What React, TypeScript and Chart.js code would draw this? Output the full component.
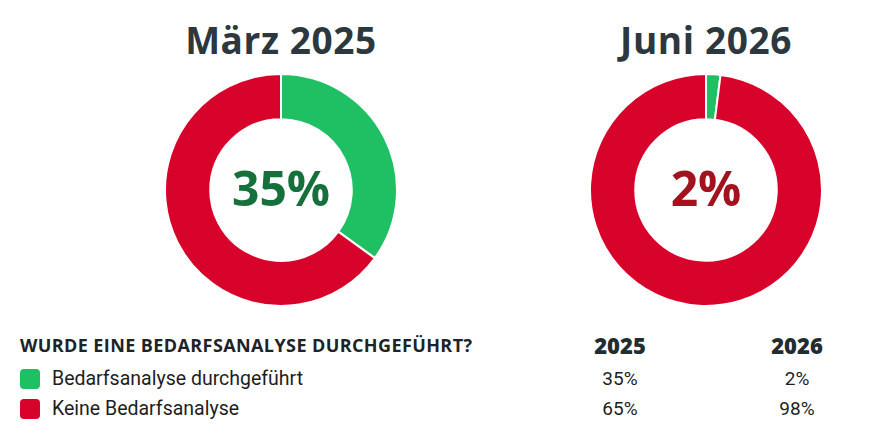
import React, { useEffect, useRef } from "react";
import { Chart, registerables } from "chart.js";

Chart.register(...registerables);

const categories = ["Bedarfsanalyse durchgeführt", "Keine Bedarfsanalyse"];
const values2025 = [35, 65];
const values2026 = [2, 98];
const periodTitles = ["März 2025", "Juni 2026"];
const yearLabels = ["2025", "2026"];
const centerLabels = ["35%", "2%"];
const tableHeading = "WURDE EINE BEDARFSANALYSE DURCHGEFÜHRT?";

const COLORS = ["#1fc064", "#d8032b"];
const CENTER_COLORS = ["#16703b", "#a3131f"];
const TITLE_FONT = "'Open Sans', 'Noto Sans', sans-serif";
const BODY_FONT = "Roboto, 'Liberation Sans', Arial, sans-serif";

const centerTextPlugin = {
  id: "centerText",
  afterDraw(chart: any, _args: any, opts: any) {
    const { ctx, chartArea } = chart;
    const cx = (chartArea.left + chartArea.right) / 2;
    const cy = (chartArea.top + chartArea.bottom) / 2;
    ctx.save();
    ctx.font = `700 48px ${TITLE_FONT}`;
    ctx.fillStyle = opts.color;
    ctx.textAlign = "center";
    ctx.textBaseline = "middle";
    ctx.fillText(opts.text, cx, cy + 2);
    ctx.restore();
  },
};

function Donut({ values, center, color, title, left }: any) {
  const ref = useRef<HTMLCanvasElement>(null);
  useEffect(() => {
    const chart = new Chart(ref.current!, {
      type: "doughnut",
      data: {
        labels: categories,
        datasets: [
          {
            data: values,
            backgroundColor: COLORS,
            borderColor: "#ffffff",
            borderWidth: 2,
          },
        ],
      },
      options: {
        responsive: false,
        animation: false,
        cutout: "61%",
        layout: { padding: 0 },
        plugins: {
          legend: { display: false },
          tooltip: { enabled: false },
          title: { display: false },
          centerText: { text: center, color },
        } as any,
      },
      plugins: [centerTextPlugin],
    });
    return () => chart.destroy();
  }, []);
  return (
    <div style={{ position: "absolute", left: left - 140, top: 0, width: 280 }}>
      <div
        style={{
          position: "absolute",
          top: 15,
          width: 280,
          textAlign: "center",
          fontFamily: TITLE_FONT,
          fontWeight: 700,
          fontSize: 37,
          letterSpacing: 0.6,
          color: "#2c383e",
          lineHeight: "50px",
        }}
      >
        {title}
      </div>
      <canvas
        ref={ref}
        width={234}
        height={234}
        style={{ position: "absolute", left: 23, top: 73, width: 234, height: 234 }}
      />
    </div>
  );
}

export default function App() {
  const rowTops = [367, 397];
  const colCenters = [620, 797];
  const colValues = [values2025, values2026];
  return (
    <div
      style={{
        position: "relative",
        width: 887,
        height: 434,
        margin: -8,
        background: "#ffffff",
        overflow: "hidden",
      }}
    >
      <Donut values={values2025} center={centerLabels[0]} color={CENTER_COLORS[0]} title={periodTitles[0]} left={281} />
      <Donut values={values2026} center={centerLabels[1]} color={CENTER_COLORS[1]} title={periodTitles[1]} left={706} />

      <div
        style={{
          position: "absolute",
          left: 20,
          top: 332,
          fontFamily: TITLE_FONT,
          fontWeight: 700,
          fontSize: 18,
          letterSpacing: 0.4,
          color: "#1d2326",
          lineHeight: "26px",
          whiteSpace: "nowrap",
        }}
      >
        {tableHeading}
      </div>
      {yearLabels.map((y, i) => (
        <div
          key={y}
          style={{
            position: "absolute",
            left: colCenters[i] - 60,
            width: 120,
            top: 330,
            textAlign: "center",
            fontFamily: TITLE_FONT,
            fontWeight: 800,
            fontSize: 22,
            color: "#232d31",
            lineHeight: "30px",
          }}
        >
          {y}
        </div>
      ))}
      {categories.map((c, r) => (
        <React.Fragment key={c}>
          <div
            style={{
              position: "absolute",
              left: 20,
              top: rowTops[r] + 2,
              width: 20,
              height: 20,
              borderRadius: 4,
              background: COLORS[r],
            }}
          />
          <div
            style={{
              position: "absolute",
              left: 52,
              top: rowTops[r],
              fontFamily: BODY_FONT,
              fontSize: 19.5,
              color: "#1e1e1e",
              lineHeight: "24px",
              whiteSpace: "nowrap",
            }}
          >
            {c}
          </div>
          {colValues.map((vals, i) => (
            <div
              key={i}
              style={{
                position: "absolute",
                left: colCenters[i] - 60,
                width: 120,
                top: rowTops[r],
                textAlign: "center",
                fontFamily: BODY_FONT,
                fontSize: 19,
                color: "#1e1e1e",
                lineHeight: "24px",
              }}
            >
              {vals[r]}%
            </div>
          ))}
        </React.Fragment>
      ))}
    </div>
  );
}
